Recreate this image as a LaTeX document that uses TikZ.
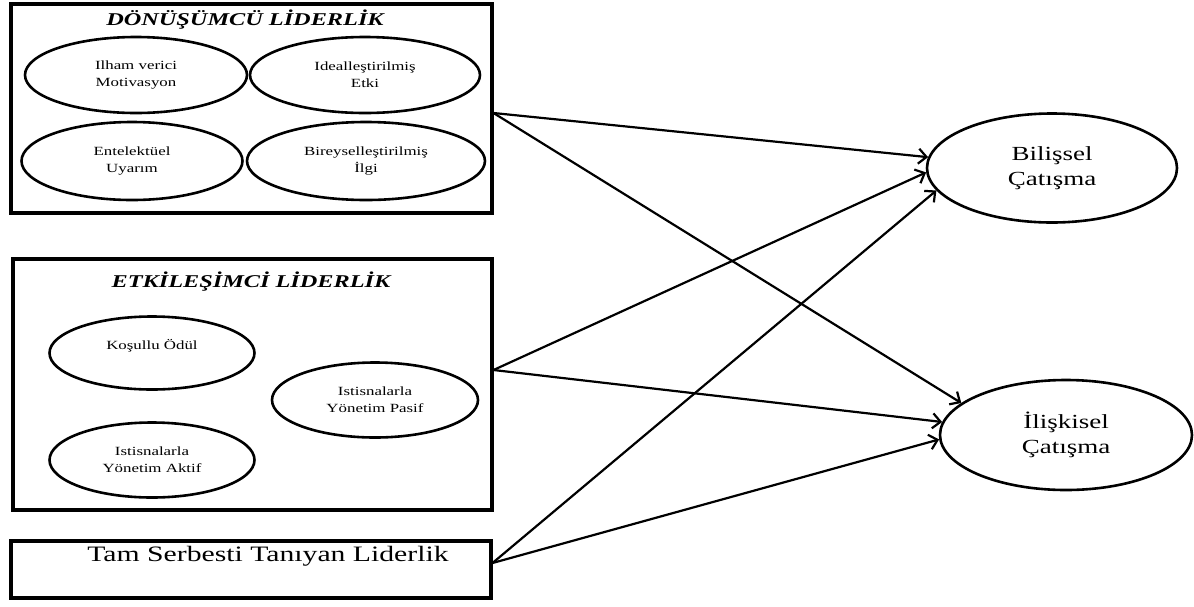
\documentclass[tikz,border=0pt]{standalone}
\usepackage{fontspec}
\setmainfont{Liberation Serif}[FakeStretch=1.35]
\usetikzlibrary{shapes.geometric,arrows.meta}

\tikzset{
	frame/.style={draw, rectangle, line width=4pt, inner sep=0pt},
	oval/.style={draw, ellipse, line width=2.6pt, inner sep=0pt, align=center, font=\fontsize{12.5}{17}\selectfont},
	bigoval/.style={oval, font=\fontsize{20}{25}\selectfont},
	heading/.style={font=\fontsize{18}{20}\selectfont\bfseries\itshape},
	link/.style={->, line width=2.2pt},
}

\begin{document}
\begin{tikzpicture}[x=1pt, y=-1pt, >={Straight Barb[length=8pt, width=15pt]}]
	\useasboundingbox (0,0) rectangle (1194,606);
	
	% Draw leadership boxes
	\node[frame, minimum width=481pt, minimum height=209pt] (donusum) at (251,108) {};
	\node[frame, minimum width=479pt, minimum height=251pt] (etkilesim) at (252,384) {};
	\node[frame, minimum width=480pt, minimum height=57pt] (serbest) at (250.5,569) {};
	
	% Draw headings
	\node[heading] (donusumbaslik) at (245,20) {DÖNÜŞÜMCÜ LİDERLİK};
	\node[heading] (etkilesimbaslik) at (251,282) {ETKİLEŞİMCİ LİDERLİK};
	\node[font=\fontsize{22}{24}\selectfont] (serbestyazi) at (268,556) {Tam Serbesti Tanıyan Liderlik};
	
	% Draw dimensions of transformational leadership
	\node[oval, minimum width=222pt, minimum height=76pt] (ilham) at (136,75) {Ilham verici\\Motivasyon};
	\node[oval, minimum width=230pt, minimum height=76pt] (ideal) at (365,75) {Idealleştirilmiş\\Etki};
	\node[oval, minimum width=221pt, minimum height=78pt] (entel) at (132,161) {Entelektüel\\Uyarım};
	\node[oval, minimum width=238pt, minimum height=78pt] (birey) at (366,161) {Bireyselleştirilmiş\\İlgi};
	
	% Draw dimensions of transactional leadership
	\node[oval, minimum width=205pt, minimum height=73pt] (odul) at (152,353) {Koşullu Ödül\\~};
	\node[oval, minimum width=206pt, minimum height=75pt] (pasif) at (375,400) {Istisnalarla\\Yönetim Pasif};
	\node[oval, minimum width=205pt, minimum height=75pt] (aktif) at (152,460) {Istisnalarla\\Yönetim Aktif};
	
	% Draw conflict types
	\node[bigoval, minimum width=250pt, minimum height=109pt] (bilissel) at (1052,168) {Bilişsel\\Çatışma};
	\node[bigoval, minimum width=252pt, minimum height=110pt] (iliskisel) at (1066,435) {İlişkisel\\Çatışma};
	
	% Draw links
	\draw[link] ([yshift=-5pt]donusum.east) -- (bilissel.175);
	\draw[link] ([yshift=-5pt]donusum.east) -- (iliskisel.163);
	\draw[link] ([yshift=14pt]etkilesim.east) -- (bilissel.182);
	\draw[link] ([yshift=14pt]etkilesim.east) -- (iliskisel.174);
	\draw[link] ([yshift=6pt]serbest.east) -- (bilissel.191);
	\draw[link] ([yshift=6pt]serbest.east) -- (iliskisel.182);
\end{tikzpicture}
\end{document}
